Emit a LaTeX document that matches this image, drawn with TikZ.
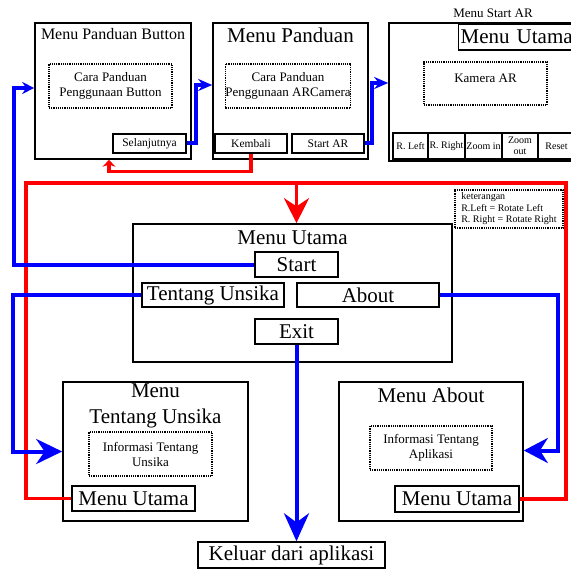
\documentclass[tikz,border=0pt]{standalone}
\usepackage{fontspec}
\setmainfont{Liberation Serif}
\usetikzlibrary{arrows.meta,calc}
\newcommand\fbig{\fontsize{21}{26}\selectfont}
\newcommand\fmid{\fontsize{13}{15}\selectfont}
\newcommand\fsmall{\fontsize{11.5}{13}\selectfont}
\newcommand\ftiny{\fontsize{10}{11.5}\selectfont}
\begin{document}
\begin{tikzpicture}[x=1pt, y=-1pt,
  frame/.style={draw, line width=1.6pt, inner sep=0pt},
  btn/.style={draw, line width=1.4pt, inner sep=0pt},
  info/.style={draw, densely dotted, line width=1.2pt, align=center, inner sep=0pt, font=\fmid},
  bl/.style={blue, line width=4pt},
  rd/.style={red, line width=3.5pt}]
\useasboundingbox(0,0)rectangle(570,572);
% Menu Panduan Button
\node[frame, minimum width=156pt, minimum height=136pt](PB)at(113,91){};
\node[font=\fontsize{16}{19}\selectfont](PBH)at(113,34){Menu Panduan Button};
\node[info, minimum width=123pt, minimum height=44pt](PBI)at(110.5,86){Cara Panduan\\Penggunaan Button};
\node[btn, font=\fsmall, minimum width=73pt, minimum height=19pt](PBS)at(149.5,143.5){Selanjutnya};
% Menu Panduan
\node[frame, minimum width=155pt, minimum height=136pt](MP)at(290.5,91){};
\node[font=\fbig](MPH)at(290.5,35){Menu Panduan};
\node[info, minimum width=122pt, minimum height=44pt](MPI)at(288,86){Cara Panduan\\Penggunaan ARCamera};
\node[btn, font=\fsmall, minimum width=72pt, minimum height=19pt](MPK)at(251,143.5){Kembali};
\node[btn, font=\fsmall, minimum width=72pt, minimum height=19pt](MPS)at(328,143.5){Start AR};
% Menu Start AR
\node[frame, minimum width=191pt, minimum height=138pt](SA)at(484.5,92){};
\node[font=\fmid](SAH)at(493,13){Menu Start AR};
\node[btn, font=\fbig, anchor=west, text width=118pt, align=left, inner xsep=2pt, minimum height=26pt](SAU)at(458,37){Menu Utama};
\node[info, text depth=11pt, minimum width=123pt, minimum height=43pt](SAK)at(485.5,83.5){Kamera AR};
\foreach \x/\w/\t[count=\i] in {410.5/35/R. Left, 446.5/37/R. Right, 483.5/37/Zoom in, 520/36/Zoom\\out, 556.5/37/Reset}
  \node[btn, font=\ftiny, align=center, minimum width=\w pt, minimum height=26pt](SAB\i)at(\x,146){\t};
\node[info, font=\ftiny, align=left, minimum width=108pt, minimum height=38pt](KET)at(509,209){keterangan\\R.Left = Rotate Left\\R. Right = Rotate Right};
% Menu Utama
\node[frame, minimum width=319pt, minimum height=138pt](MU)at(292.5,293){};
\node[font=\fbig](MUH)at(292.5,238){Menu Utama};
\node[btn, font=\fbig, minimum width=83pt, minimum height=25pt](MUS)at(296.5,264.5){Start};
\node[btn, font=\fbig, minimum width=142pt, minimum height=24pt](MUT)at(213,295){Tentang Unsika};
\node[btn, font=\fbig, minimum width=142pt, minimum height=24pt](MUA)at(368,295){About};
\node[btn, font=\fbig, minimum width=83pt, minimum height=25pt](MUE)at(296.5,331.5){Exit};
% Menu Tentang Unsika
\node[frame, minimum width=185pt, minimum height=139pt](TU)at(155.5,451.5){};
\node[font=\fbig, align=center](TUH)at(155.5,406){Menu\\Tentang Unsika};
\node[info, minimum width=123pt, minimum height=44pt](TUI)at(150.5,454){Informasi Tentang\\Unsika};
\node[btn, font=\fbig, minimum width=123pt, minimum height=25pt](TUM)at(133.5,498.5){Menu Utama};
% Menu About
\node[frame, minimum width=184pt, minimum height=139pt](MA)at(431,451.5){};
\node[font=\fbig](MAH)at(431,395){Menu About};
\node[info, minimum width=122pt, minimum height=44pt](MAI)at(431,448){Informasi Tentang\\Aplikasi};
\node[btn, font=\fbig, minimum width=124pt, minimum height=26pt](MAM)at(457,499){Menu Utama};
% Keluar
\node[btn, font=\fbig, minimum width=187pt, minimum height=26pt](KA)at(291.5,555){Keluar dari aplikasi};
%
\coordinate(RL)at(26,183);
\coordinate(RR)at(566,183);
\draw[rd](MAM.east)-|(RR)--(RL);
\draw[rd, -{Stealth[length=25pt, width=25pt]}](TUM.west)-|(RL)-|($(MU.north)+(4,0)$);
\draw[rd, -{Stealth[length=7pt, width=13pt]}](MPK.south)--++(0,18)-|($(PB.south)+(-4,0)$);
%
\draw[bl, -{Stealth[length=12pt, width=12pt]}](MUS.west)-|($(PB.west)+(-20,-3)$)--($(PB.west)+(0,-3)$);
\draw[bl, -{Stealth[length=14pt, width=12pt]}](PBS.east)-|($(MP.west)+(-16,-6)$)--($(MP.west)+(0,-6)$);
\draw[bl, -{Stealth[length=14pt, width=12pt]}](MPS.east)-|($(SA.west)+(-16,-9)$)--($(SA.west)+(0,-9)$);
\draw[bl, -{Stealth[length=26pt, width=25pt]}](MUT.west)-|($(TU.west)+(-49,0)$)--(TU.west);
\draw[bl, -{Stealth[length=24pt, width=25pt]}](MUA.east)-|($(MA.east)+(34,-1)$)--($(MA.east)+(0,-1)$);
\draw[bl, -{Stealth[length=28pt, width=25pt]}](MUE.south)--(MUE.south|-KA.north);
\end{tikzpicture}
\end{document}
